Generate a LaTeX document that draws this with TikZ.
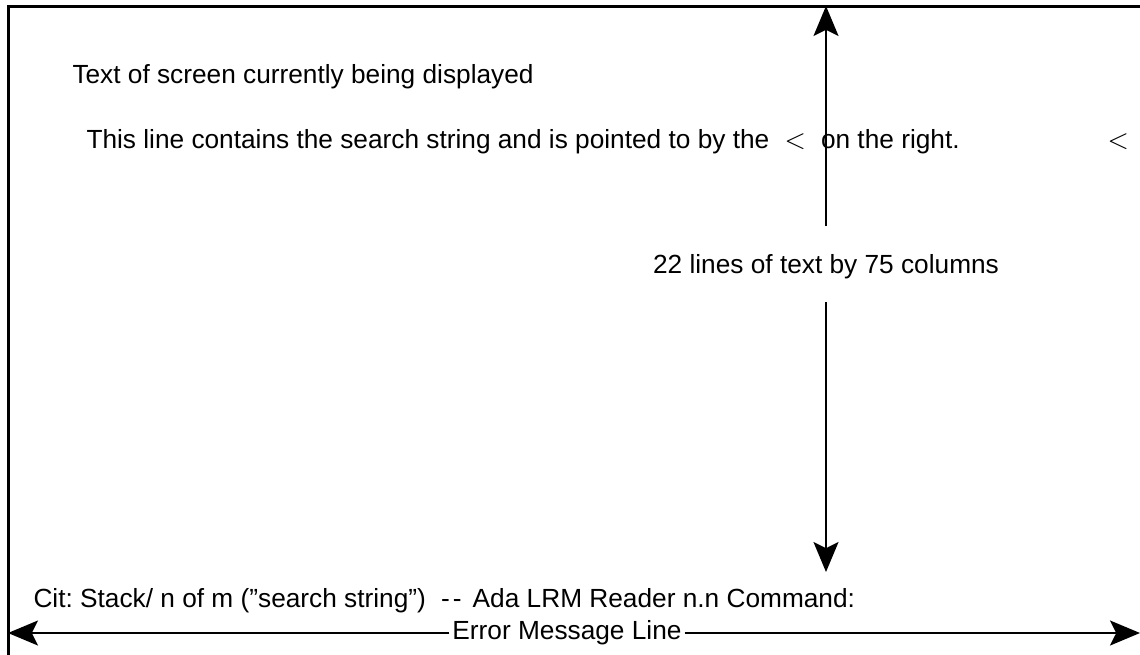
\documentclass[tikz,border=0pt]{standalone}
\usepackage{fontspec}
\setmainfont{Liberation Sans}
\usetikzlibrary{arrows.meta}
\tikzset{
  txt/.style={anchor=base west,inner sep=0pt},
  dimarrow/.style={line width=0.8pt,-{Stealth[length=12pt,width=10pt,inset=2.5pt]}},
}
\begin{document}
\frenchspacing
\begin{tikzpicture}[x=0.4pt,y=-0.4pt,font=\fontsize{10.5pt}{12pt}\selectfont]
\useasboundingbox(0,0)rectangle(1140,654);
\clip(0,0)rectangle(1140,654);
\draw[line width=1.2pt](8,6)rectangle(1200,720);
% screen contents
\node[txt](title)at(72,83){Text of screen currently being displayed};
\node[txt](search)at(86,148){This line contains the search string and is pointed to by the\hspace{0.3em} $<$\hspace{0.3em} on the right.};
\node[txt](mark)at(1107,148){$<$};
\node[txt](status)at(33,607){Cit: Stack/ n of m (”search string”)\hspace{0.3em} \mbox{-\kern1.2pt-}\hspace{0.15em} Ada LRM Reader n.n Command:};
% size of the text area
\node[inner sep=0pt,text height=7.6pt,text depth=0pt,minimum height=30pt](cols)at(826,264){22 lines of text by 75 columns};
\coordinate(top)at(826,6);
\coordinate(bot)at(826,572);
\draw[dimarrow](cols.north)--(top);
\draw[dimarrow](cols.south)--(bot);
% message line
\node[inner xsep=1pt,inner ysep=0pt](err)at(567,633){Error Message Line};
\coordinate(lft)at(8,633);
\coordinate(rgt)at(1140,633);
\draw[dimarrow](err.west)--(lft);
\draw[dimarrow](err.east)--(rgt);
\end{tikzpicture}
\end{document}
